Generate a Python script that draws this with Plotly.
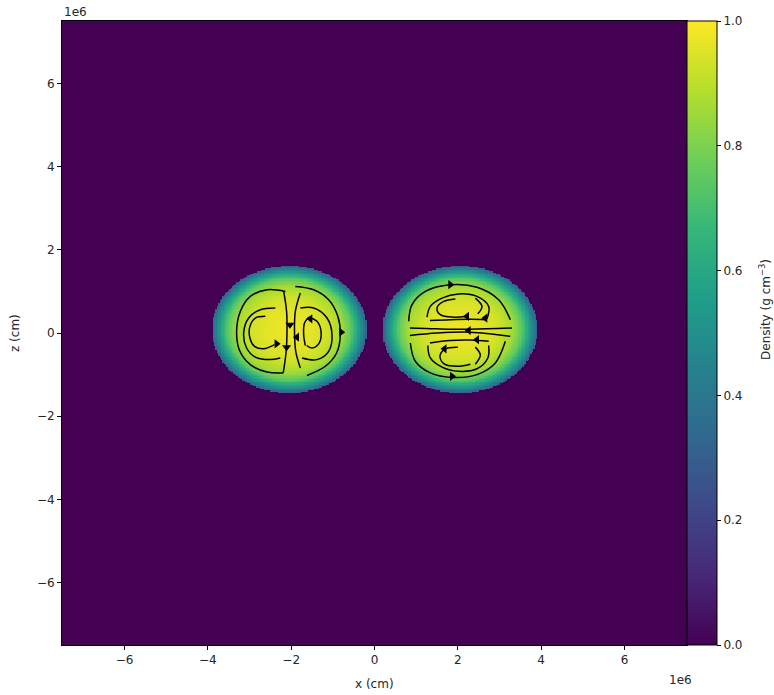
import numpy as np
import plotly.graph_objects as go

# ---------------- data ----------------
SCALE = 1e6
# blob geometry (cm)
blob_cx = [-2.04e6, 2.06e6]
blob_cz = [0.08e6, 0.08e6]
blob_ax = [1.86e6, 1.86e6]
blob_az = [1.53e6, 1.53e6]
# radial density profile (normalised radius -> density)
prof_r = [0.0, 0.3, 0.5, 0.68, 0.8, 0.9, 0.97, 1.0]
prof_rho = [0.98, 0.96, 0.93, 0.86, 0.74, 0.55, 0.38, 0.30]

# streamlines (units of 1e6 cm)
streams = [
    # left blob
    ([-2.14, -2.58, -2.98, -3.22, -3.31, -3.23, -2.98, -2.58, -2.19],
     [1.00, 1.04, 0.88, 0.52, 0.00, -0.44, -0.76, -0.94, -0.96]),
    ([-2.18, -2.11, -2.10, -2.12, -2.19],
     [1.00, 0.52, 0.04, -0.44, -0.96]),
    ([-2.38, -2.74, -3.02, -3.14, -3.07, -2.86, -2.50, -2.26],
     [0.60, 0.56, 0.36, 0.00, -0.36, -0.58, -0.64, -0.60]),
    ([-2.62, -2.86, -2.99, -2.99, -2.88, -2.66, -2.40],
     [0.40, 0.36, 0.16, -0.12, -0.32, -0.38, -0.28]),
    ([-1.90, -1.46, -1.10, -0.88, -0.82, -0.91, -1.18, -1.62],
     [1.12, 1.04, 0.80, 0.40, -0.04, -0.48, -0.80, -1.02]),
    ([-1.78, -1.90, -1.92, -1.89, -1.78],
     [0.96, 0.52, 0.04, -0.44, -0.84]),
    ([-1.78, -1.46, -1.14, -1.02, -1.10, -1.38, -1.74],
     [0.60, 0.60, 0.36, -0.04, -0.44, -0.64, -0.60]),
    ([-1.58, -1.38, -1.28, -1.34, -1.50, -1.63],
     [0.38, 0.28, 0.00, -0.26, -0.36, -0.30]),
    ([-1.58, -1.68, -1.70, -1.66],
     [0.38, 0.24, -0.05, -0.30]),
    # right blob
    ([0.82, 0.90, 1.22, 1.82, 2.46, 2.98, 3.26],
     [0.28, 0.68, 1.00, 1.16, 1.10, 0.80, 0.32]),
    ([0.85, 1.50, 2.30, 3.30],
     [0.12, 0.10, 0.09, 0.12]),
    ([0.85, 1.50, 2.30, 3.26],
     [-0.06, 0.00, 0.02, -0.08]),
    ([0.86, 0.98, 1.34, 1.86, 2.46, 2.90, 3.14],
     [-0.24, -0.68, -0.96, -1.07, -1.00, -0.72, -0.20]),
    ([1.26, 1.34, 1.62, 2.02, 2.46, 2.74, 2.70],
     [0.38, 0.64, 0.84, 0.94, 0.88, 0.64, 0.34]),
    ([2.70, 2.30, 1.82, 1.33],
     [0.32, 0.33, 0.32, 0.30]),
    ([1.94, 1.66, 1.50, 1.58, 1.90, 2.22],
     [0.82, 0.76, 0.60, 0.44, 0.38, 0.40]),
    ([2.42, 2.58, 2.48],
     [0.84, 0.64, 0.46]),
    ([1.28, 1.34, 1.62, 2.02, 2.46, 2.72, 2.74],
     [-0.30, -0.60, -0.82, -0.92, -0.86, -0.60, -0.30]),
    ([2.74, 2.30, 1.82, 1.33],
     [-0.20, -0.17, -0.18, -0.24]),
    ([2.00, 1.70, 1.57, 1.68, 2.00, 2.30],
     [-0.34, -0.38, -0.56, -0.75, -0.80, -0.75]),
    ([2.42, 2.54, 2.42],
     [-0.34, -0.53, -0.75]),
]

# arrow heads (units of 1e6 cm) and their directions (deg, plotly marker angle, 0 = up)
arrow_x = [-2.03, -2.11, -2.35, -1.86, -1.54, -0.80,
           1.82, 2.22, 2.66, 2.26, 2.46, 1.68, 1.86]
arrow_z = [0.20, -0.34, -0.26, -0.10, 0.34, 0.02,
           1.16, 0.40, 0.36, 0.06, -0.16, -0.38, -1.04]
arrow_ang = [180, 180, 90, 270, 270, 90,
             90, 270, 270, 270, 270, 270, 90]

x_ticks = [-6, -4, -2, 0, 2, 4, 6]
z_ticks = [-6, -4, -2, 0, 2, 4, 6]
cbar_ticks = [0.0, 0.2, 0.4, 0.6, 0.8, 1.0]

# ---------------- density field ----------------
grid = np.linspace(-7.5e6, 7.5e6, 451)
X, Z = np.meshgrid(grid, grid)
rho = np.zeros_like(X)
for cx, cz, ax, az in zip(blob_cx, blob_cz, blob_ax, blob_az):
    r = np.sqrt(((X - cx) / ax) ** 2 + ((Z - cz) / az) ** 2)
    val = np.interp(r, prof_r, prof_rho)
    val[r > 1.0] = 0.0
    rho = np.maximum(rho, val)
rho = np.round(rho, 3)

TXT = "#262626"
fig = go.Figure()
fig.add_trace(go.Heatmap(
    x=grid, y=grid, z=rho, colorscale="Viridis", zmin=0, zmax=1,
    colorbar=dict(
        thickness=30, len=1.0, lenmode="fraction", y=0.5, yanchor="middle",
        x=1.0, xanchor="left", xpad=0, ypad=0,
        outlinecolor="black", outlinewidth=1,
        tickvals=cbar_ticks, ticktext=[f"{v:.1f}" for v in cbar_ticks],
        ticks="outside", ticklen=4, tickcolor="black",
        tickfont=dict(size=12, color=TXT),
    ),
    hoverinfo="skip",
))

for sx, sz in streams:
    fig.add_trace(go.Scatter(
        x=[v * SCALE for v in sx], y=[v * SCALE for v in sz],
        mode="lines", line=dict(color="black", width=1.5, shape="spline"),
        showlegend=False, hoverinfo="skip"))

fig.add_trace(go.Scatter(
    x=[v * SCALE for v in arrow_x], y=[v * SCALE for v in arrow_z],
    mode="markers",
    marker=dict(symbol="triangle-up", size=8, color="black", angle=arrow_ang),
    showlegend=False, hoverinfo="skip"))

axis_common = dict(
    showgrid=False, zeroline=False, showline=True, linecolor="black",
    linewidth=1, mirror=True, ticks="outside", ticklen=4, tickcolor="black",
    tickfont=dict(size=12, color=TXT), automargin=False,
)
fig.update_layout(
    width=774, height=695,
    margin=dict(l=62, r=87, t=21, b=50, autoexpand=False),
    paper_bgcolor="white", plot_bgcolor="white",
    font=dict(family="DejaVu Sans", size=12, color=TXT),
    xaxis=dict(range=[-7.5e6, 7.5e6], tickvals=[v * SCALE for v in x_ticks],
               ticktext=[str(v).replace("-", "−") for v in x_ticks],
               **axis_common),
    yaxis=dict(range=[-7.5e6, 7.5e6], tickvals=[v * SCALE for v in z_ticks],
               ticktext=[str(v).replace("-", "−") for v in z_ticks],
               **axis_common),
    annotations=[
        dict(text="x (cm)", xref="paper", yref="paper", x=0.5, y=-0.0625,
             xanchor="center", yanchor="middle", showarrow=False,
             font=dict(size=12, color=TXT)),
        dict(text="z (cm)", xref="paper", yref="paper", x=-0.0752, y=0.5,
             xanchor="center", yanchor="middle", showarrow=False,
             textangle=-90, font=dict(size=12, color=TXT)),
        dict(text="Density (g cm<sup>−3</sup>)", xref="paper", yref="paper",
             x=1.1248, y=0.537, xanchor="center", yanchor="middle",
             showarrow=False, textangle=-90, font=dict(size=12, color=TXT)),
        dict(text="1e6", xref="paper", yref="paper", x=0.0, y=1.0,
             xanchor="left", yanchor="bottom", showarrow=False,
             font=dict(size=12, color=TXT)),
        dict(text="1e6", xref="paper", yref="paper", x=0.989, y=-0.056,
             xanchor="center", yanchor="middle", showarrow=False,
             font=dict(size=12, color=TXT)),
    ],
)

fig.write_html(
    "out.html",
    config={"displayModeBar": False},
    post_script="document.body.style.margin='0';document.body.style.overflow='hidden';",
)
